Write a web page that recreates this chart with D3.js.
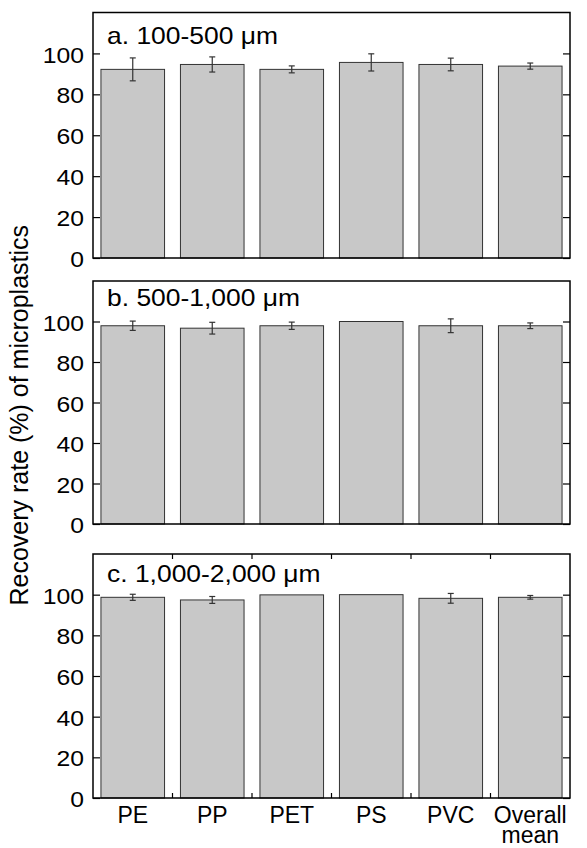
<!DOCTYPE html>
<html>
<head>
<meta charset="utf-8">
<script src="https://cdn.jsdelivr.net/npm/d3@7"></script>
<style>
  html, body { margin: 0; padding: 0; background: #fff; }
  svg { display: block; }
  text { font-family: "Liberation Sans", Arial, Helvetica, sans-serif; fill: #000; }
</style>
</head>
<body>
<svg id="chart" width="587" height="848"></svg>
<script>
// ---- data ----
const categories = ["PE", "PP", "PET", "PS", "PVC", "Overall mean"];
const panelTitles = ["a. 100-500 \u03bcm", "b. 500-1,000 \u03bcm", "c. 1,000-2,000 \u03bcm"];
const meanA = [92.2, 94.6, 92.2, 95.6, 94.6, 93.8];
const errA  = [5.6, 3.7, 1.7, 4.2, 3.1, 1.5];
const meanB = [97.9, 96.7, 97.9, 100.0, 97.9, 97.9];
const errB  = [2.3, 2.9, 1.8, 0.0, 3.4, 1.4];
const meanC = [98.7, 97.4, 99.9, 100.0, 98.2, 98.7];
const errC  = [1.5, 1.7, 0.0, 0.0, 2.4, 0.9];
const yTicks = [0, 20, 40, 60, 80, 100];
const yDomain = [0, 120];
const yLabel = "Recovery rate (%) of microplastics";

// ---- layout ----
const left = 93, right = 570;
const textStretch = 1.15;
const panels = [
  { top: 12.5, bottom: 258, titleY: 44, mean: meanA, err: errA, title: panelTitles[0] },
  { top: 281,  bottom: 524, titleY: 306, mean: meanB, err: errB, title: panelTitles[1] },
  { top: 554,  bottom: 798, titleY: 582, mean: meanC, err: errC, title: panelTitles[2] }
];

const svg = d3.select("#chart");

const x = d3.scaleBand()
  .domain(categories)
  .range([left, right])
  .paddingInner(0.2)
  .paddingOuter(0.1);

panels.forEach((p, pi) => {
  const y = d3.scaleLinear().domain(yDomain).range([p.bottom, p.top]);
  const g = svg.append("g");
  const rows = categories.map((c, i) => ({ c, v: p.mean[i], e: p.err[i] }));

  // bars
  g.selectAll("rect.bar").data(rows).join("rect")
    .attr("class", "bar")
    .attr("x", d => x(d.c))
    .attr("width", x.bandwidth())
    .attr("y", d => y(d.v))
    .attr("height", d => y(0) - y(d.v))
    .attr("fill", "#c8c8c8")
    .attr("stroke", "#333")
    .attr("stroke-width", 1);

  // error bars
  const eb = g.selectAll("g.err").data(rows.filter(d => d.e > 0)).join("g")
    .attr("class", "err")
    .attr("stroke", "#333")
    .attr("stroke-width", 1.2);
  const cx = d => x(d.c) + x.bandwidth() / 2;
  eb.append("line")
    .attr("x1", cx).attr("x2", cx)
    .attr("y1", d => y(d.v - d.e)).attr("y2", d => y(d.v + d.e));
  eb.append("line")
    .attr("x1", d => cx(d) - 3).attr("x2", d => cx(d) + 3)
    .attr("y1", d => y(d.v + d.e)).attr("y2", d => y(d.v + d.e));
  eb.append("line")
    .attr("x1", d => cx(d) - 3).attr("x2", d => cx(d) + 3)
    .attr("y1", d => y(d.v - d.e)).attr("y2", d => y(d.v - d.e));

  // left axis (inward ticks)
  const ax = g.append("g")
    .attr("transform", `translate(${left},0)`)
    .call(d3.axisLeft(y).tickValues(yTicks).tickSize(-7).tickPadding(9));
  ax.select(".domain").remove();
  ax.selectAll(".tick line").attr("stroke", "#000").attr("stroke-width", 1.2);
  ax.selectAll(".tick text")
    .style("font-size", "21.5px")
    .attr("x", 0)
    .attr("dy", "0.4em")
    .attr("transform", `translate(-9,0) scale(${textStretch},1)`);

  // right axis (inward ticks, no labels)
  const ar = g.append("g")
    .attr("transform", `translate(${right},0)`)
    .call(d3.axisRight(y).tickValues(yTicks).tickSize(-7).tickFormat(""));
  ar.select(".domain").remove();
  ar.selectAll(".tick line").attr("stroke", "#000").attr("stroke-width", 1.2);

  // x ticks between bars on the last panel (top and bottom, inward)
  if (pi === panels.length - 1) {
    const bounds = categories.slice(1).map(c => x(c) - x.step() * x.paddingInner() / 2);
    g.selectAll("line.xt-top").data(bounds).join("line")
      .attr("x1", d => d).attr("x2", d => d)
      .attr("y1", p.top).attr("y2", p.top + 5)
      .attr("stroke", "#000").attr("stroke-width", 1.2);
    g.selectAll("line.xt-bot").data(bounds).join("line")
      .attr("x1", d => d).attr("x2", d => d)
      .attr("y1", p.bottom).attr("y2", p.bottom - 5)
      .attr("stroke", "#000").attr("stroke-width", 1.2);

    const lab = g.selectAll("text.xl").data(categories).join("text")
      .attr("class", "xl")
      .attr("text-anchor", "middle")
      .style("font-size", "23px")
      .attr("transform", d => `translate(${x(d) + x.bandwidth() / 2},${p.bottom + 25})`);
    lab.each(function(d) {
      const parts = d.split(" ");
      const t = d3.select(this);
      parts.forEach((s, k) => {
        t.append("tspan").attr("x", 0).attr("dy", k === 0 ? 0 : "0.86em").text(s);
      });
    });
  }

  // frame
  g.append("rect")
    .attr("x", left).attr("y", p.top)
    .attr("width", right - left).attr("height", p.bottom - p.top)
    .attr("fill", "none").attr("stroke", "#000").attr("stroke-width", 1.5);

  // panel title
  g.append("text")
    .attr("transform", `translate(${left + 14},${p.titleY}) scale(${textStretch},1)`)
    .style("font-size", "23px")
    .text(p.title);
});

// y label
svg.append("text")
  .attr("transform", `translate(28,${(panels[0].top + panels[2].bottom) / 2 + 10}) rotate(-90)`)
  .attr("text-anchor", "middle")
  .style("font-size", "25px")
  .text(yLabel);
</script>
</body>
</html>
